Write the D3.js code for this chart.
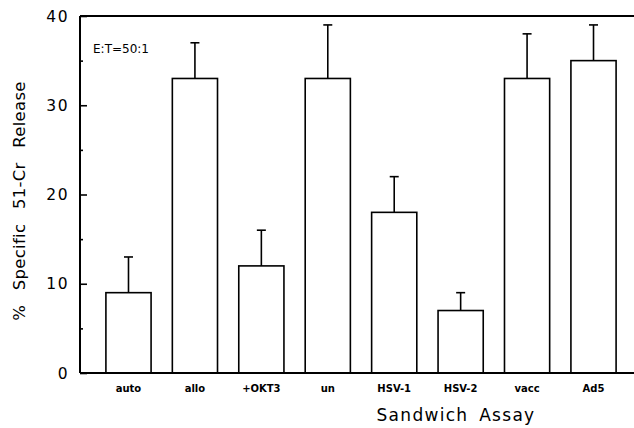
<!DOCTYPE html>
<html>
<head>
<meta charset="utf-8">
<script src="https://cdn.jsdelivr.net/npm/d3@7"></script>
<style>
  html, body { margin: 0; padding: 0; background: #fff; }
  svg { display: block; }
  text { font-family: "DejaVu Sans", Arial, sans-serif; fill: #000; }
</style>
</head>
<body>
<svg id="chart" width="634" height="428"></svg>
<script>
const categories = ["auto", "allo", "+OKT3", "un", "HSV-1", "HSV-2", "vacc", "Ad5"];
const values = [9, 33, 12, 33, 18, 7, 33, 35];
const errors = [4, 4, 4, 6, 4, 2, 5, 4];
const majorTicks = [0, 10, 20, 30, 40];
const minorTicks = [5, 15, 25, 35];

const svg = d3.select("#chart");
const mLeft = 80, mTop = 16, mBottom = 373, mRight = 642;

const y = d3.scaleLinear().domain([0, 40]).range([mBottom, mTop]);
const x = d3.scaleBand().domain(categories).range([mLeft, mRight])
  .paddingInner(0.32).paddingOuter(0.39);

// bars
svg.append("g").selectAll("rect").data(categories).join("rect")
  .attr("x", d => x(d))
  .attr("y", (d, i) => y(values[i]))
  .attr("width", x.bandwidth())
  .attr("height", (d, i) => y(0) - y(values[i]))
  .attr("fill", "none").attr("stroke", "#000").attr("stroke-width", 1.6);

// error bars
const eg = svg.append("g").attr("stroke", "#000").attr("stroke-width", 1.6);
categories.forEach((c, i) => {
  const cx = x(c) + x.bandwidth() / 2;
  eg.append("line").attr("x1", cx).attr("x2", cx)
    .attr("y1", y(values[i])).attr("y2", y(values[i] + errors[i]));
  eg.append("line").attr("x1", cx - 4.5).attr("x2", cx + 4.5)
    .attr("y1", y(values[i] + errors[i])).attr("y2", y(values[i] + errors[i]));
});

// frame
svg.append("line").attr("x1", mLeft).attr("x2", mRight).attr("y1", mTop).attr("y2", mTop)
  .attr("stroke", "#000").attr("stroke-width", 1.8);
svg.append("line").attr("x1", mLeft).attr("x2", mRight).attr("y1", mBottom).attr("y2", mBottom)
  .attr("stroke", "#000").attr("stroke-width", 2);
svg.append("line").attr("x1", mLeft).attr("x2", mLeft).attr("y1", mTop).attr("y2", mBottom)
  .attr("stroke", "#000").attr("stroke-width", 2);

// y axis ticks (inward)
const yAxis = d3.axisRight(y).tickValues(majorTicks).tickSize(7).tickFormat("");
const ga = svg.append("g").attr("transform", `translate(${mLeft},0)`).call(yAxis);
ga.select(".domain").remove();
ga.selectAll("line").attr("stroke-width", 1.6);
const yMinor = d3.axisRight(y).tickValues(minorTicks).tickSize(3).tickFormat("");
const gm = svg.append("g").attr("transform", `translate(${mLeft},0)`).call(yMinor);
gm.select(".domain").remove();
gm.selectAll("line").attr("stroke-width", 1.6);

// y tick labels
svg.append("g").selectAll("text").data(majorTicks).join("text")
  .attr("x", 69).attr("y", d => y(d) + 5.5)
  .attr("text-anchor", "end")
  .attr("font-size", 15.5).attr("letter-spacing", 1.5)
  .text(d => d);

// x category labels
svg.append("g").selectAll("text").data(categories).join("text")
  .attr("x", d => x(d) + x.bandwidth() / 2).attr("y", 392)
  .attr("text-anchor", "middle")
  .attr("font-size", 10).attr("font-weight", "bold")
  .text(d => d);

// axis titles
svg.append("text").attr("x", 456).attr("y", 421)
  .attr("text-anchor", "middle").attr("font-size", 17).attr("letter-spacing", 1.3)
  .attr("word-spacing", 4)
  .text("Sandwich Assay");

svg.append("text")
  .attr("transform", "translate(25,201) rotate(-90)")
  .attr("text-anchor", "middle").attr("font-size", 16.5).attr("word-spacing", 9)
  .attr("letter-spacing", 0.3)
  .text("% Specific 51-Cr Release");

svg.append("text").attr("x", 93).attr("y", 53)
  .attr("font-size", 12)
  .text("E:T=50:1");
</script>
</body>
</html>
